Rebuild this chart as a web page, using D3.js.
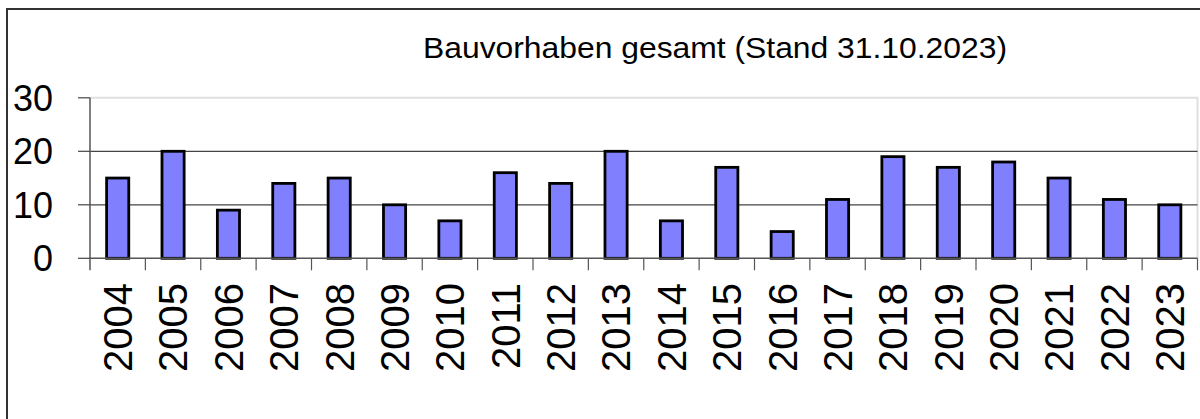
<!DOCTYPE html>
<html>
<head>
<meta charset="utf-8">
<script src="https://cdn.jsdelivr.net/npm/d3@7"></script>
<style>
  body { margin: 0; background: #fff; }
  svg { display: block; font-family: Arial, "Liberation Sans", sans-serif; }
</style>
</head>
<body>
<svg id="chart" width="1200" height="419"></svg>
<script>
const years = ['2004','2005','2006','2007','2008','2009','2010','2011','2012','2013',
               '2014','2015','2016','2017','2018','2019','2020','2021','2022','2023'];
const values = [15, 20, 9, 14, 15, 10, 7, 16, 14, 20, 7, 17, 5, 11, 19, 17, 18, 15, 11, 10];
const yTicks = [0, 10, 20, 30];
const title = 'Bauvorhaben gesamt (Stand 31.10.2023)';

const svg = d3.select('#chart');
const plotLeft = 90, plotRight = 1197.5, plotTop = 97.8, plotBottom = 258.3;

const x = d3.scaleBand().domain(years).range([plotLeft, plotRight]);
const y = d3.scaleLinear().domain([0, 30]).range([plotBottom, plotTop]);

// outer frame
svg.append('path')
  .attr('d', `M7,419 V9 H1200`)
  .attr('fill', 'none')
  .attr('stroke', '#333')
  .attr('stroke-width', 2);

// plot area border (light)
svg.append('path')
  .attr('d', `M${plotLeft},${plotTop} H${plotRight} V${plotBottom}`)
  .attr('fill', 'none')
  .attr('stroke', '#e0e0e0')
  .attr('stroke-width', 2);

// gridlines
svg.append('g')
  .selectAll('line')
  .data(yTicks.filter(t => t > 0 && t < 30))
  .join('line')
  .attr('x1', plotLeft).attr('x2', plotRight)
  .attr('y1', d => y(d)).attr('y2', d => y(d))
  .attr('stroke', '#444')
  .attr('stroke-width', 1.2);

// bars
const bw = x.bandwidth();
svg.append('g')
  .selectAll('rect')
  .data(values)
  .join('rect')
  .attr('x', (d, i) => x(years[i]) + bw * 0.3)
  .attr('width', bw * 0.4)
  .attr('y', d => y(d))
  .attr('height', d => y(0) - y(d))
  .attr('fill', '#8080ff')
  .attr('stroke', '#000')
  .attr('stroke-width', 2.8);

// y axis
const yAxis = svg.append('g');
yAxis.append('line')
  .attr('x1', plotLeft).attr('x2', plotLeft)
  .attr('y1', plotTop).attr('y2', plotBottom + 12)
  .attr('stroke', '#555').attr('stroke-width', 1.5);
yAxis.selectAll('line.tick')
  .data(yTicks)
  .join('line')
  .attr('class', 'tick')
  .attr('x1', plotLeft - 12).attr('x2', plotLeft)
  .attr('y1', d => y(d)).attr('y2', d => y(d))
  .attr('stroke', '#444').attr('stroke-width', 1.2);
yAxis.selectAll('text')
  .data(yTicks)
  .join('text')
  .attr('x', 53)
  .attr('y', d => y(d))
  .attr('dy', '0.36em')
  .attr('text-anchor', 'end')
  .attr('font-size', 36)
  .attr('fill', '#000')
  .text(d => d);

// x axis
const xAxis = svg.append('g');
xAxis.append('line')
  .attr('x1', plotLeft).attr('x2', plotRight)
  .attr('y1', plotBottom).attr('y2', plotBottom)
  .attr('stroke', '#555').attr('stroke-width', 1.5);
xAxis.selectAll('line.tick')
  .data(years.slice(1).concat(['end']))
  .join('line')
  .attr('class', 'tick')
  .attr('x1', (d, i) => i < years.length - 1 ? x(d) : plotRight)
  .attr('x2', (d, i) => i < years.length - 1 ? x(d) : plotRight)
  .attr('y1', plotBottom).attr('y2', plotBottom + 12)
  .attr('stroke', '#555').attr('stroke-width', 1.2);
xAxis.selectAll('text')
  .data(years)
  .join('text')
  .attr('transform', d => `translate(${x(d) + bw / 2},283) rotate(-90)`)
  .attr('dy', '0.36em')
  .attr('text-anchor', 'end')
  .attr('font-size', 40)
  .attr('fill', '#000')
  .text(d => d);

// title
svg.append('text')
  .attr('x', 423)
  .attr('y', 58)
  .attr('font-size', 30)
  .attr('textLength', 584)
  .attr('lengthAdjust', 'spacingAndGlyphs')
  .attr('fill', '#000')
  .text(title);
</script>
</body>
</html>
